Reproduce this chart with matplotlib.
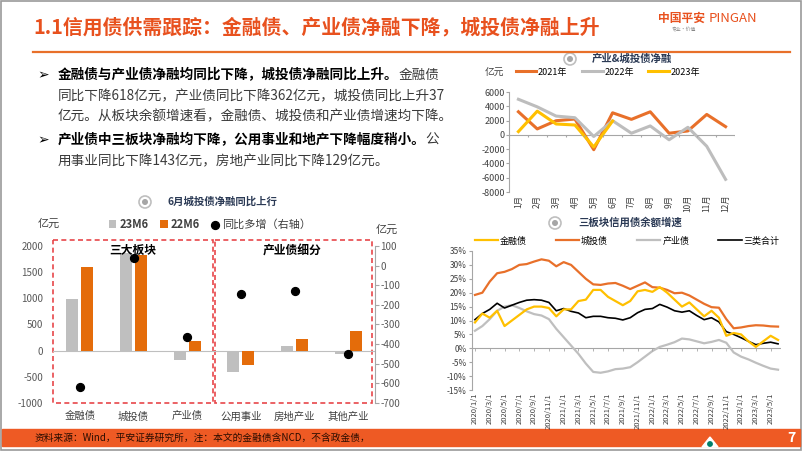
import numpy as np
import matplotlib.pyplot as plt
from matplotlib.patches import Rectangle, Circle, Polygon

plt.rcParams['font.family'] = ['Noto Sans CJK SC', 'DejaVu Sans']
plt.rcParams['axes.unicode_minus'] = False

W, H = 802, 451

# 左下：6月净融（亿元）
cats = ['金融债', '城投债', '产业债', '公用事业', '房地产业', '其他产业']
m6_23 = [990, 1870, -170, -415, 90, -70]
m6_22 = [1608, 1833, 192, -272, 219, 380]
yoy = [-618, 37, -362, -143, -129, -450]

# 右上：产业&城投债净融（亿元）
months = ['1月', '2月', '3月', '4月', '5月', '6月', '7月', '8月', '9月', '10月', '11月', '12月']
net21 = [3230, 830, 1980, 2215, -2080, 3090, 2170, 3230, 230, 550, 2860, 1150]
net22 = [4980, 3920, 2630, 2400, -230, 1980, 230, 1250, -690, 1060, -1600, -6230]
net23 = [460, 3320, 1520, 1380, -1700, 1940]

# 右下：三板块信用债余额增速（%），2020/1 - 2023/6 月度
date_labels = ['2020/1/1', '2020/3/1', '2020/5/1', '2020/7/1', '2020/9/1', '2020/11/1',
               '2021/1/1', '2021/3/1', '2021/5/1', '2021/7/1', '2021/9/1', '2021/11/1',
               '2022/1/1', '2022/3/1', '2022/5/1', '2022/7/1', '2022/9/1', '2022/11/1',
               '2023/1/1', '2023/3/1', '2023/5/1']
fin_g = [9.3, 12.5, 11.0, 13.5, 8.0, 10.0, 12.0, 14.0, 15.0, 15.0, 14.5, 11.5, 14.0, 14.0,
         17.0, 17.5, 21.0, 21.0, 18.5, 17.0, 15.5, 17.0, 20.5, 21.0, 20.3, 22.0, 20.0, 17.5,
         15.0, 16.5, 14.0, 11.5, 13.5, 11.0, 4.5, 5.5, 5.0, 2.5, 0.5, 2.5, 4.5, 3.0]
cty_g = [19.2, 20.0, 24.0, 27.0, 27.5, 28.5, 30.0, 30.3, 31.2, 32.0, 31.5, 29.5, 31.0, 30.0,
         27.5, 25.0, 23.0, 22.8, 23.3, 23.5, 22.5, 21.3, 22.5, 23.7, 22.0, 21.8, 21.0, 19.8,
         20.0, 19.0, 17.5, 16.0, 14.8, 14.6, 10.5, 7.2, 7.5, 8.0, 8.3, 8.2, 7.9, 7.8]
ind_g = [6.3, 8.0, 10.5, 13.5, 15.0, 15.5, 14.5, 13.3, 12.3, 11.8, 10.5, 7.0, 4.0, 1.0,
         -2.0, -5.5, -8.5, -8.8, -8.3, -7.5, -7.3, -6.8, -5.0, -3.0, -1.0, 0.5, 1.3, 2.2,
         3.5, 3.2, 2.5, 1.8, 2.3, 3.0, 2.0, -1.5, -3.0, -4.0, -5.2, -6.3, -7.3, -7.7]
tot_g = [10.3, 12.5, 14.0, 16.2, 14.5, 15.5, 16.5, 17.3, 17.5, 17.3, 16.5, 13.5, 14.3, 13.3,
         12.7, 11.0, 11.5, 11.5, 11.0, 10.8, 10.2, 11.0, 12.8, 14.0, 14.3, 15.8, 14.8, 13.5,
         13.0, 13.5, 11.8, 10.3, 11.0, 9.5, 6.0, 5.0, 3.8, 2.5, 1.3, 1.8, 2.2, 1.6]

ORANGE = '#E8702A'
BAR_OR = '#E46C0A'
GRAY = '#BFBFBF'
YELLOW = '#FFC000'
TXT = '#404040'
AXC = '#A6A6A6'
RED = '#E8511E'


def rect(x0, y0, x1, y1):
    return [x0 / W, 1 - y1 / H, (x1 - x0) / W, (y1 - y0) / H]


def fxy(x, y):
    return x / W, 1 - y / H


fig = plt.figure(figsize=(W / 100, H / 100), dpi=100)
bg = fig.add_axes([0, 0, 1, 1])
bg.set_xlim(0, W)
bg.set_ylim(H, 0)
bg.axis('off')

# 版面
bg.add_patch(Rectangle((0.5, 0.5), W - 1.5, H - 1.5, fill=False, ec='#9A9A9A', lw=1.2))
bg.text(33, 27, '1.1信用债供需跟踪：金融债、产业债净融下降，城投债净融上升',
        fontsize=14.3, fontweight='bold', color=RED, va='center')
bg.plot([33, 790], [52, 52], color=ORANGE, lw=1.6)
bg.text(658, 18, '中国平安', fontsize=8.5, fontweight='bold', color=RED, va='center')
bg.text(709, 18, 'PINGAN', fontsize=9.5, color=RED, va='center')
bg.text(672, 30, '专业·价值', fontsize=3.5, color='#888888', va='center')

# 正文
fs = 9.8
em = fs * 100 / 72
x0 = 58
lines = [
    (75, '金融债与产业债净融均同比下降，城投债净融同比上升。', '金融债', True),
    (96, '', '同比下降618亿元，产业债同比下降362亿元，城投债同比上升37', False),
    (116, '', '亿元。从板块余额增速看，金融债、城投债和产业债增速均下降。', False),
    (140, '产业债中三板块净融均下降，公用事业和地产下降幅度稍小。', '公', True),
    (161, '', '用事业同比下降143亿元，房地产业同比下降129亿元。', False),
]
for y, b, r, bullet in lines:
    if bullet:
        bg.text(37, y, '➢', fontsize=10, color='black', va='center')
    if b:
        bg.text(x0, y, b, fontsize=fs, fontweight='bold', color='black', va='center')
    bg.text(x0 + len(b) * em, y, r, fontsize=fs, color='#3A3A3A', va='center')


def chart_title(xi, xt, y, s):
    bg.add_patch(Circle((xi, y), 6, fc='white', ec=GRAY, lw=1.2))
    bg.add_patch(Circle((xi, y), 3, fc='#A6A6A6', ec='none'))
    bg.text(xt, y, s, ha='center', va='center', fontsize=7.5, fontweight='bold', color='#2B3A55')


chart_title(570, 632, 59, '产业&城投债净融')
chart_title(145, 222, 202, '6月城投债净融同比上行')
chart_title(555, 630, 223, '三板块信用债余额增速')

# 页脚
bg.add_patch(Rectangle((2, 429), W - 4, 17, color='#EE5A24'))
bg.text(35, 438, '资料来源：Wind，平安证券研究所，注：本文的金融债含NCD，不含政金债，',
        fontsize=7, color='#2A0C00', va='center')
bg.text(791, 438, '7', fontsize=10, fontweight='bold', color='white', ha='center', va='center')
bg.add_patch(Polygon([[702, 447], [710, 437], [718, 447]], color='white'))
bg.add_patch(Circle((710, 444), 2.2, color='#00806A'))

# 右上图
ax1 = fig.add_axes(rect(509, 92, 735, 192))
ax1.patch.set_alpha(0)
x = np.arange(len(months))
ax1.plot(x, net21, color=ORANGE, lw=2.2, label='2021年', solid_joinstyle='round')
ax1.plot(x, net22, color='#BDBDBD', lw=2.2, label='2022年', solid_joinstyle='round')
ax1.plot(np.arange(len(net23)), net23, color=YELLOW, lw=2.2, label='2023年', solid_joinstyle='round')
ax1.set_xlim(-0.5, 11.5)
ax1.set_ylim(-8000, 6000)
ax1.set_yticks(range(-8000, 6001, 2000))
ax1.axhline(0, color=AXC, lw=0.8, zorder=0)
ax1.vlines(np.arange(-0.5, 12, 1), -350, 0, color=AXC, lw=0.8)
for s in ['top', 'right', 'bottom']:
    ax1.spines[s].set_visible(False)
ax1.spines['left'].set_color(AXC)
ax1.tick_params(axis='y', length=2, color=AXC, labelsize=6.5, pad=1, labelcolor=TXT)
ax1.set_xticks(x)
ax1.set_xticklabels(months, rotation=90, fontsize=6, color=TXT)
ax1.tick_params(axis='x', length=0, pad=2)
ax1.legend(loc='center', bbox_to_anchor=fxy(608, 72), bbox_transform=fig.transFigure,
           ncol=3, frameon=False, fontsize=6.5, handlelength=2.3, columnspacing=1.6,
           handletextpad=0.2)
bg.text(485, 73, '亿元', fontsize=7, color=TXT, va='center')

# 左下图
ax2 = fig.add_axes(rect(53, 246, 375, 403))
ax2.patch.set_alpha(0)
xc = np.arange(len(cats))
b1 = ax2.bar(xc - 0.14, m6_23, width=0.22, color=GRAY, label='23M6', zorder=2)
b2 = ax2.bar(xc + 0.14, m6_22, width=0.22, color=BAR_OR, label='22M6', zorder=2)
ax2.set_xlim(-0.5, 5.5)
ax2.set_ylim(-1000, 2000)
ax2.set_yticks(range(-1000, 2001, 500))
ax2.axhline(0, color=GRAY, lw=0.8, zorder=1)
for s in ax2.spines.values():
    s.set_visible(False)
ax2.tick_params(axis='y', length=0, pad=7, labelsize=7, labelcolor='#595959')
ax2.set_xticks(xc)
ax2.set_xticklabels(cats, fontsize=7.5, color=TXT)
ax2.tick_params(axis='x', length=0, pad=6)

ax2r = ax2.twinx()
sc = ax2r.scatter(xc, yoy, s=32, color='black', zorder=3, label='同比多增（右轴）')
ax2r.set_ylim(-700, 100)
ax2r.set_yticks(range(-700, 101, 100))
for s in ['left', 'top', 'bottom']:
    ax2r.spines[s].set_visible(False)
ax2r.spines['right'].set_color(AXC)
ax2r.tick_params(axis='y', length=3, color=AXC, labelsize=7, pad=1, labelcolor='#595959')

bg.add_patch(Rectangle((53, 240), 160, 163, fill=False, ec='#E8474A', ls=(0, (3, 2)), lw=1.2))
bg.add_patch(Rectangle((215, 240), 157, 163, fill=False, ec='#E8474A', ls=(0, (3, 2)), lw=1.2))
fig.text(*fxy(133, 250), '三大板块', fontsize=8.5, fontweight='bold', color='black',
         ha='center', va='center')
fig.text(*fxy(292, 251), '产业债细分', fontsize=8.5, fontweight='bold', color='black',
         ha='center', va='center')
leg = fig.legend([b1, b2, sc], ['23M6', '22M6', '同比多增（右轴）'], loc='center',
                 bbox_to_anchor=fxy(210, 224), ncol=3, frameon=False, fontsize=8,
                 handlelength=0.7, handleheight=0.7, handletextpad=0.3, columnspacing=1.0,
                 labelcolor=TXT)
for txt in leg.get_texts()[:2]:
    txt.set_fontweight('bold')
bg.text(38, 224, '亿元', fontsize=8, color=TXT, va='center')
bg.text(376, 230, '亿元', fontsize=8, color=TXT, va='center')

# 右下图
ax3 = fig.add_axes(rect(472, 251, 781, 390))
ax3.patch.set_alpha(0)
t = np.arange(len(fin_g))
ax3.plot(t, ind_g, color=GRAY, lw=1.6, label='产业债')
ax3.plot(t, tot_g, color='black', lw=1.2, label='三类合计')
ax3.plot(t, cty_g, color=ORANGE, lw=1.6, label='城投债')
ax3.plot(t, fin_g, color=YELLOW, lw=1.6, label='金融债')
ax3.set_xlim(-0.4, 41.4)
ax3.set_ylim(-15, 35)
ax3.set_yticks(range(-15, 36, 5))
ax3.set_yticklabels([f'{v}%' for v in range(-15, 36, 5)])
ax3.axhline(0, color=AXC, lw=0.8, zorder=0)
ax3.vlines(t[::2], -0.8, 0, color=AXC, lw=0.6)
for s in ['top', 'right', 'bottom']:
    ax3.spines[s].set_visible(False)
ax3.spines['left'].set_color(AXC)
ax3.tick_params(axis='y', length=2, color=AXC, labelsize=6, pad=2, labelcolor=TXT)
ax3.set_xticks(t[::2])
ax3.set_xticklabels(date_labels, rotation=90, fontsize=5.5, color=TXT)
ax3.tick_params(axis='x', length=0, pad=2)
hs, ls = ax3.get_legend_handles_labels()
order = [3, 2, 0, 1]
ax3.legend([hs[i] for i in order], [ls[i] for i in order], loc='center',
           bbox_to_anchor=fxy(627, 241), bbox_transform=fig.transFigure, ncol=4,
           frameon=False, fontsize=6.5, handlelength=2.6, columnspacing=3.2,
           handletextpad=0.2)

fig.savefig('out.png', dpi=100)
